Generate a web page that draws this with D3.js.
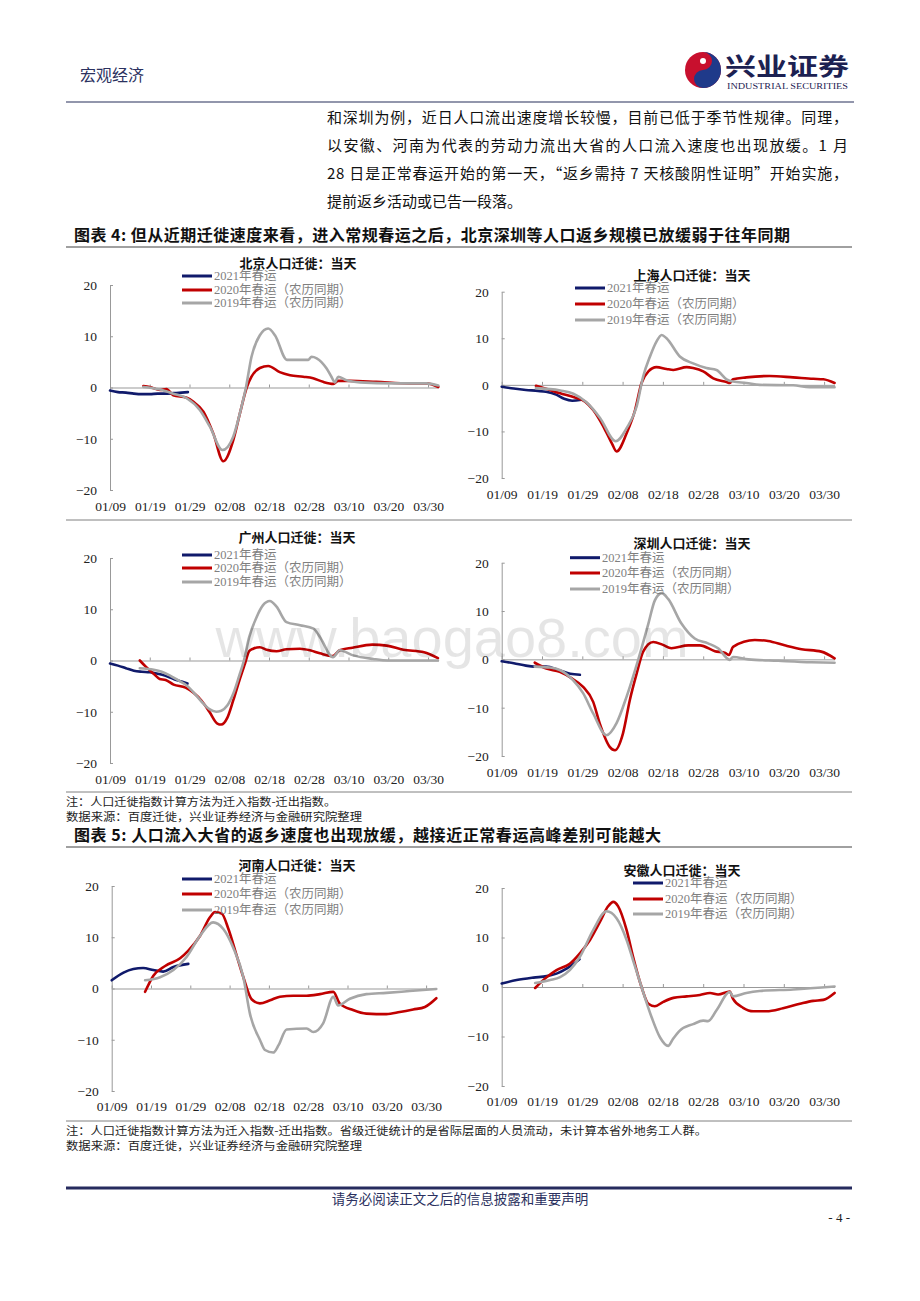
<!DOCTYPE html>
<html>
<head>
<meta charset="utf-8">
<script src="https://cdn.jsdelivr.net/npm/d3@7"></script>
<style>
  body { margin: 0; background: #fff; }
  svg { display: block; }
</style>
</head>
<body>
<svg width="920" height="1301"></svg>
<script>
// x axis: days counted from 01/09
const xTickDays = [0, 10, 20, 30, 40, 50, 60, 70, 80];
const xLabels = ["01/09", "01/19", "01/29", "02/08", "02/18", "02/28", "03/10", "03/20", "03/30"];
const yTicks = [20, 10, 0, -10, -20];
const seriesNames = ["2021年春运", "2020年春运（农历同期）", "2019年春运（农历同期）"];
const seriesColors = ["#101a6b", "#c00000", "#a6a6a6"];

// [day, value]
const bj2021 = [[0,-0.6],[2,-0.9],[4,-1.0],[6,-1.2],[8,-1.3],[10,-1.3],[12,-1.2],[14,-1.2],[16,-1.1],[18,-1.0],[19.6,-0.9]];
const bj2020 = [[8.4,0.3],[10,0.1],[12.6,-0.5],[14.2,-0.3],[15.9,-1.5],[19.3,-2.0],[21,-2.8],[23.5,-4.7],[26,-9.0],[28.5,-14.4],[31,-10.3],[32.7,-5.0],[34.4,0],[35.6,2.1],[37.7,3.8],[39.8,4.2],[42.7,3.0],[45.3,2.4],[48.6,2.1],[51.1,1.8],[53.6,1.1],[56.2,0.7],[57.4,1.3],[60.4,1.3],[67,1.1],[75.4,0.8],[79.6,0.8],[82.6,0.1]];
const bj2019 = [[8.4,0.1],[12.6,-0.4],[15.9,-1.2],[19.3,-2.1],[22.6,-4.4],[25.1,-7.6],[28.3,-12.2],[31,-9.6],[33.1,-3.7],[34.2,0],[35.6,6.0],[37.7,10.2],[39.8,11.5],[41.5,10.2],[44.5,5.4],[47.8,5.4],[49.9,5.4],[50.7,6.0],[52,5.7],[54.5,3.7],[55.7,2.1],[56.6,1.0],[57.4,2.1],[59.5,1.4],[62.9,1.0],[71.3,0.8],[79.6,0.8],[82.6,0.4]];

const sh2021 = [[0,-0.4],[3,-0.8],[6,-1.1],[9,-1.3],[11,-1.5],[13.5,-2.1],[15.5,-3.0],[17.5,-3.4],[19.8,-3.2]];
const sh2020 = [[8.5,-0.2],[11.2,-0.9],[14.5,-1.8],[17.8,-2.6],[20.7,-3.6],[22.7,-5.4],[25.2,-8.9],[27.3,-12.5],[28.5,-14.3],[31,-10.4],[33.1,-5.4],[34.7,0.4],[36.4,2.9],[38.4,3.8],[40.9,3.4],[42.6,3.2],[45.9,3.8],[47.5,3.6],[50,2.9],[52.5,1.4],[55.8,0.6],[56.6,0.4],[57.4,1.2],[60.7,1.6],[66.5,1.9],[72.3,1.6],[77.3,1.3],[79.8,1.2],[82.6,0.4]];
const sh2019 = [[8.5,-0.7],[14.5,-1.2],[17.8,-1.9],[21.1,-3.8],[24.4,-7.1],[28.3,-12.1],[31,-9.3],[33.5,-4.6],[35.1,1.8],[36.8,6.1],[38.4,9.3],[39.7,10.7],[40.9,10.0],[44.2,6.1],[47.5,4.6],[50.8,3.6],[53.3,3.2],[55.8,1.2],[57.4,0.7],[60.7,0.4],[64,0],[72.3,-0.1],[76.4,-0.5],[82.6,-0.5]];

const gz2021 = [[0,-0.6],[2,-1.0],[4,-1.5],[6,-2.0],[8,-2.2],[10,-2.3],[12,-2.6],[14,-3.0],[16,-3.6],[18,-4.1],[19.5,-4.5]];
const gz2020 = [[7.5,0],[9,-1.2],[11,-2.6],[12.5,-3.6],[14,-3.8],[16,-4.7],[19,-5.3],[21,-6.3],[23,-7.8],[25,-10.0],[27,-12.3],[28,-12.5],[29.5,-11.2],[31,-7.8],[32.5,-4.0],[34,-0.5],[35,1.8],[36,2.3],[37.7,2.6],[39.4,2.1],[41.9,1.8],[44.4,2.2],[47.8,2.3],[50.3,2.0],[52.8,1.4],[56,0.85],[57.8,2.0],[61,2.5],[66,3.1],[69.6,2.9],[73.8,2.1],[79,1.6],[82.5,0.45]];
const gz2019 = [[7.5,-1.5],[11,-1.8],[13,-2.2],[15,-2.9],[17,-3.8],[19.5,-5.0],[21,-6.2],[23,-8.0],[25,-9.5],[26.7,-10.0],[28,-9.8],[29.5,-8.8],[31,-6.5],[32.5,-3.0],[33.7,0],[35,4.5],[36.9,8.5],[38.5,10.8],[40.2,11.6],[41.9,10.5],[44.4,7.5],[47.8,6.9],[51.2,6.2],[52.8,4.6],[56.1,0.65],[57.8,2.0],[61.2,1.0],[66.2,0.3],[70,0],[82.5,0]];

const sz2021 = [[0,-0.4],[3,-0.8],[6,-1.3],[8,-1.5],[11,-1.5],[14.4,-2.3],[17,-3.0],[19.4,-3.2]];
const sz2020 = [[8.2,-0.7],[11.1,-1.9],[14.4,-2.6],[17.3,-3.9],[20.2,-5.7],[22.7,-8.8],[24.3,-13.2],[26.8,-18.1],[28.1,-18.8],[30.1,-15.3],[31.8,-8.4],[33.5,-2.9],[35.1,1.6],[37.6,3.6],[40,3.0],[42.1,2.3],[46.3,2.9],[49.2,2.9],[52.9,1.7],[55.5,1.3],[56.4,0.9],[57.4,2.6],[62.8,4.0],[66.1,3.8],[70.2,2.9],[74.4,2.1],[79.3,1.6],[82.6,0.2]];
const sz2019 = [[8.2,-1.5],[12,-1.7],[14.4,-2.2],[17.7,-4.3],[20.2,-7.0],[22.7,-11.2],[26,-15.7],[28.5,-13.2],[31,-7.7],[33.9,0],[36.4,7.4],[38,12.2],[39.7,13.7],[41.3,12.5],[44.6,7.4],[47.9,4.3],[51.2,3.3],[53.7,2.3],[56.6,-0.1],[57.4,0.5],[61.2,0],[68.6,-0.3],[76.9,-0.6],[82.6,-0.7]];

const hn2021 = [[0,1.6],[3,3.1],[5.5,3.8],[8,4.0],[10.6,3.6],[13.1,3.3],[15.7,4.2],[19.5,4.8]];
const hn2020 = [[8.5,-0.65],[10.6,2.5],[13.6,4.4],[17.4,5.9],[19.5,7.4],[22.5,10.3],[25,13.9],[26.3,14.9],[28,14.6],[29.7,11.6],[31.8,6.4],[33.5,2.2],[35.6,-2.1],[37.7,-2.9],[40.3,-2.3],[42.8,-1.6],[46.2,-1.4],[49.6,-1.4],[53,-1.1],[56.4,-0.65],[58,-2.9],[61.4,-4.2],[64.8,-4.9],[69.9,-5.0],[73.3,-4.6],[76.7,-4.1],[79.7,-3.6],[82.6,-1.9]];
const hn2019 = [[8.5,1.6],[12.3,2.2],[15.7,3.6],[19,6.1],[22.5,10.3],[25.8,12.9],[28.4,11.6],[30.9,8.0],[33.5,2.2],[35.2,-5.0],[37.7,-10.0],[39,-12.0],[41.1,-12.5],[42.5,-11.0],[44.5,-8.0],[49.6,-7.8],[51.3,-8.5],[53.8,-6.8],[56.4,-1.6],[57.6,-3.3],[60.6,-2.0],[64.8,-1.1],[69.9,-0.85],[75.8,-0.5],[82.6,-0.1]];

const ah2021 = [[0,0.7],[3.7,1.4],[7.9,1.9],[11.2,2.2],[13.6,2.7],[16.1,3.7],[19.3,5.6]];
const ah2020 = [[8.3,-0.2],[11.2,2.0],[13.6,3.4],[16.9,4.7],[19.4,6.8],[21.9,9.5],[24.4,13.2],[26.4,16.3],[27.7,17.2],[28.9,16.3],[31,11.5],[32.6,6.1],[34.7,0],[36.4,-3.4],[38,-3.9],[40.1,-3.0],[42.6,-2.2],[45.9,-1.9],[49.2,-1.6],[51.7,-1.2],[53.7,-1.5],[56.6,-0.9],[57.4,-2.4],[59.9,-4.2],[62.4,-4.9],[65.7,-4.9],[69.8,-4.3],[74,-3.4],[77.3,-2.8],[79.8,-2.6],[82.6,-1.2]];
const ah2019 = [[8.3,0.8],[12,1.4],[14.5,2.0],[16.9,3.4],[19.4,6.1],[22.7,11.5],[26,15.3],[28.5,13.9],[31,9.5],[32.6,5.4],[34.7,0],[37.2,-6.1],[39.3,-10.2],[41.3,-11.9],[42.5,-10.5],[44.2,-8.8],[47.5,-7.5],[50,-6.8],[51.2,-6.9],[53.3,-4.7],[56.6,-1.0],[57.4,-1.9],[60.7,-1.2],[64,-0.8],[72.3,-0.5],[82.6,0.1]];

const svg = d3.select("svg");
const serif = "'Liberation Serif','Noto Sans CJK SC',serif";
const cjk = "'Noto Sans CJK SC',sans-serif";
const navy = "#2b3160";
const ruleGray = "#808080";
const lastDay = 82.6;

// ---------- page header ----------
svg.append("text")
  .attr("x", 80).attr("y", 81)
  .attr("font-family", cjk).attr("font-size", 16)
  .attr("fill", navy)
  .text("宏观经济");

const logo = svg.append("g").attr("transform", "translate(703,70)");
const r = 18;
logo.append("circle").attr("r", r).attr("fill", "#c8102e");
logo.append("path")
  .attr("d", `M0,${-r} A${r},${r} 0 0 1 0,${r} A${r / 2},${r / 2} 0 0 1 0,0 A${r / 2},${r / 2} 0 0 0 0,${-r} Z`)
  .attr("fill", "#1f3a8a");
logo.append("circle").attr("cx", 0).attr("cy", -r / 2).attr("r", 3).attr("fill", "#fff");

svg.append("text")
  .attr("x", 725).attr("y", 75)
  .attr("font-family", cjk).attr("font-weight", 700).attr("font-size", 24)
  .attr("fill", "#1c2152")
  .attr("textLength", 124).attr("lengthAdjust", "spacingAndGlyphs")
  .text("兴业证券");
svg.append("text")
  .attr("x", 727).attr("y", 89)
  .attr("font-family", serif).attr("font-size", 8)
  .attr("fill", "#1c2152")
  .attr("textLength", 121).attr("lengthAdjust", "spacingAndGlyphs")
  .text("INDUSTRIAL SECURITIES");

svg.append("line")
  .attr("x1", 66).attr("x2", 854).attr("y1", 102).attr("y2", 102)
  .attr("stroke", "#6e7390").attr("stroke-width", 1.6);

// ---------- paragraph ----------
const paraLines = [
  "和深圳为例，近日人口流出速度增长较慢，目前已低于季节性规律。同理，",
  "以安徽、河南为代表的劳动力流出大省的人口流入速度也出现放缓。1 月",
  "28 日是正常春运开始的第一天，“返乡需持 7 天核酸阴性证明”开始实施，",
  "提前返乡活动或已告一段落。"
];
paraLines.forEach((t, i) => {
  const txt = svg.append("text")
    .attr("x", 327).attr("y", 117 + i * 28 + 5.5)
    .attr("font-family", cjk).attr("font-size", 15)
    .attr("fill", "#111")
    .text(t);
  if (i < 3) txt.attr("textLength", 521).attr("lengthAdjust", "spacing");
});

// ---------- figure titles and rules ----------
function figTitle(y, t, len) {
  svg.append("text")
    .attr("x", 74).attr("y", y + 6)
    .attr("font-family", cjk).attr("font-weight", 700).attr("font-size", 16)
    .attr("fill", "#111")
    .attr("textLength", len).attr("lengthAdjust", "spacing")
    .text(t);
}
function rule(y, w, c) {
  svg.append("line")
    .attr("x1", 66).attr("x2", 852).attr("y1", y).attr("y2", y)
    .attr("stroke", c || ruleGray).attr("stroke-width", w || 1);
}
function note(y, t, len) {
  svg.append("text")
    .attr("x", 66).attr("y", y + 4)
    .attr("font-family", cjk).attr("font-size", 11)
    .attr("fill", "#222")
    .attr("textLength", len).attr("lengthAdjust", "spacingAndGlyphs")
    .text(t);
}

figTitle(235, "图表 4: 但从近期迁徙速度来看，进入常规春运之后，北京深圳等人口返乡规模已放缓弱于往年同期", 716);
rule(247, 1.6);
rule(520, 1);
rule(792, 1);
note(802, "注：人口迁徙指数计算方法为迁入指数-迁出指数。", 270);
note(817, "数据来源：百度迁徙，兴业证券经济与金融研究院整理", 296);
figTitle(835, "图表 5: 人口流入大省的返乡速度也出现放缓，越接近正常春运高峰差别可能越大", 587);
rule(847, 1.6);
rule(1121, 1);
note(1131, "注：人口迁徙指数计算方法为迁入指数-迁出指数。省级迁徙统计的是省际层面的人员流动，未计算本省外地务工人群。", 641);
note(1146, "数据来源：百度迁徙，兴业证券经济与金融研究院整理", 296);

// ---------- panels ----------
const panels = [
  { title: "北京人口迁徙：当天", data: [bj2021, bj2020, bj2019], left: 110, dayPx: 3.975, top: 285, bottom: 490, labelY: 506, tx: 298, ty: 263, lx: 182, ly: [276, 290, 303] },
  { title: "上海人口迁徙：当天", data: [sh2021, sh2020, sh2019], left: 501.7, dayPx: 4.03, top: 291.7, bottom: 478, labelY: 494, tx: 692, ty: 275, lx: 575, ly: [288, 304, 320] },
  { title: "广州人口迁徙：当天", data: [gz2021, gz2020, gz2019], left: 110, dayPx: 3.975, top: 558, bottom: 763, labelY: 779, tx: 297, ty: 537, lx: 182, ly: [555, 568, 582] },
  { title: "深圳人口迁徙：当天", data: [sz2021, sz2020, sz2019], left: 501.7, dayPx: 4.03, top: 562.7, bottom: 756, labelY: 772.7, tx: 692, ty: 543, lx: 570, ly: [557.7, 573, 589] },
  { title: "河南人口迁徙：当天", data: [hn2021, hn2020, hn2019], left: 111.7, dayPx: 3.93, top: 886, bottom: 1091, labelY: 1106.7, tx: 297, ty: 865, lx: 182, ly: [879, 894, 910] },
  { title: "安徽人口迁徙：当天", data: [ah2021, ah2020, ah2019], left: 501.7, dayPx: 4.03, top: 888, bottom: 1086, labelY: 1101.7, tx: 682, ty: 870, lx: 633, ly: [883, 899, 914] }
];

panels.forEach(p => {
  const g = svg.append("g");
  const x = d3.scaleLinear().domain([0, lastDay]).range([p.left, p.left + lastDay * p.dayPx]);
  const y = d3.scaleLinear().domain([-20, 20]).range([p.bottom, p.top]);

  // y axis, ticks pointing inward
  const yAxis = g.append("g")
    .attr("transform", `translate(${p.left},0)`)
    .call(d3.axisLeft(y).tickValues(yTicks).tickSize(-3).tickSizeOuter(0).tickPadding(13));
  yAxis.select(".domain").attr("stroke", "#999");
  yAxis.selectAll(".tick line").attr("stroke", "#999");
  yAxis.selectAll("text")
    .attr("font-family", serif).attr("font-size", 13.5).attr("fill", "#222");

  // zero line with ticks
  const zAxis = g.append("g")
    .attr("transform", `translate(0,${y(0)})`)
    .call(d3.axisBottom(x).tickValues(xTickDays).tickSize(-3).tickSizeOuter(0).tickFormat(""));
  zAxis.select(".domain").attr("stroke", "#999");
  zAxis.selectAll(".tick line").attr("stroke", "#999");

  // date labels at the bottom
  const xl = g.append("g")
    .attr("transform", `translate(0,${p.labelY})`)
    .call(d3.axisBottom(x).tickValues(xTickDays).tickSize(0).tickFormat((d, i) => xLabels[i]));
  xl.select(".domain").remove();
  xl.selectAll("text")
    .attr("y", 0).attr("dy", "0.35em")
    .attr("font-family", serif).attr("font-size", 13.5).attr("fill", "#222");

  // series
  const line = d3.line()
    .x(d => x(d[0]))
    .y(d => y(d[1]))
    .curve(d3.curveMonotoneX);
  p.data.forEach((s, i) => {
    g.append("path")
      .datum(s)
      .attr("d", line)
      .attr("fill", "none")
      .attr("stroke", seriesColors[i])
      .attr("stroke-width", 2.6)
      .attr("stroke-linejoin", "round")
      .attr("stroke-linecap", "round");
  });

  // title
  g.append("text")
    .attr("x", p.tx).attr("y", p.ty + 5)
    .attr("text-anchor", "middle")
    .attr("font-family", cjk).attr("font-weight", 700).attr("font-size", 13)
    .attr("fill", "#111")
    .text(p.title);

  // legend
  seriesNames.forEach((name, i) => {
    g.append("line")
      .attr("x1", p.lx).attr("x2", p.lx + 30)
      .attr("y1", p.ly[i]).attr("y2", p.ly[i])
      .attr("stroke", seriesColors[i]).attr("stroke-width", 3);
    g.append("text")
      .attr("x", p.lx + 32).attr("y", p.ly[i] + 4.4)
      .attr("font-family", serif).attr("font-size", 12.5)
      .attr("fill", "#7f7f7f")
      .text(name);
  });
});

// watermark
svg.append("text")
  .attr("x", 452).attr("y", 657)
  .attr("text-anchor", "middle")
  .attr("font-family", "'Liberation Sans',sans-serif").attr("font-size", 56)
  .attr("fill", "#000").attr("fill-opacity", 0.1)
  .text("www.baogao8.com");

// ---------- footer ----------
rule(1188, 3, "#262b5e");
svg.append("text")
  .attr("x", 460).attr("y", 1204)
  .attr("text-anchor", "middle")
  .attr("font-family", cjk).attr("font-size", 13.5)
  .attr("fill", navy)
  .text("请务必阅读正文之后的信息披露和重要声明");
svg.append("text")
  .attr("x", 850).attr("y", 1222)
  .attr("text-anchor", "end")
  .attr("font-family", serif).attr("font-size", 13)
  .attr("fill", "#222")
  .text("- 4 -");
</script>
</body>
</html>
